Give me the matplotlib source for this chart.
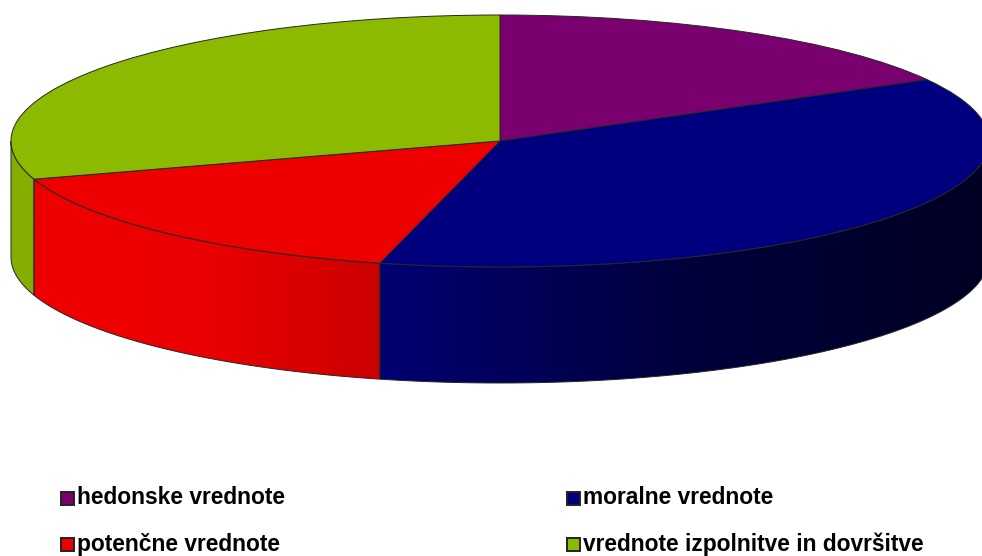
import numpy as np
import matplotlib
matplotlib.use('Agg')
import matplotlib.pyplot as plt
from matplotlib.colors import LinearSegmentedColormap
from matplotlib.patches import Polygon, Rectangle
from matplotlib.transforms import Affine2D

labels = ['hedonske vrednote', 'moralne vrednote', 'potenčne vrednote', 'vrednote izpolnitve in dovršitve']
values = [16.9, 37.05, 16.15, 29.9]
top_colors = ['#7b006f', '#00007f', '#ee0000', '#8cba00']

# left / right colours of the rim of every slice
side_colors = {1: ['#000072', '#00003c', '#000024'],
               2: ['#f00000', '#ea0000', '#cc0000'],
               3: ['#86ae00', '#86ae00', '#86ae00']}

# ellipse in pixels
cx, cy = 500, 141
rx, ry = 489, 126
depth = 116
edge = '#262626'

fig = plt.figure(figsize=(9.82, 5.56), dpi=100)
ax = fig.add_axes([0, 0, 1, 1])

wedges, _ = ax.pie(values, colors=top_colors, startangle=90, counterclock=False,
                   wedgeprops=dict(edgecolor=edge, linewidth=0.7))
ax.set_aspect('auto')
ax.set_xlim(0, 982)
ax.set_ylim(556, 0)
ax.axis('off')

squash = Affine2D().scale(rx, -ry).translate(cx, cy) + ax.transData
for w in wedges:
    w.set_transform(squash)
    w.set_zorder(5)


def rim_xy(a1, a2):
    t = np.radians(np.linspace(a1, a2, 200))
    return cx + rx * np.cos(t), cy - ry * np.sin(t)


# the rim: only what lies on the front half of the ellipse
for i, w in enumerate(wedges):
    if i not in side_colors:
        continue
    a1 = min(w.theta1, w.theta2) % 360
    a2 = a1 + abs(w.theta2 - w.theta1)
    a1, a2 = max(a1, 180), min(a2, 360)
    x, y = rim_xy(a1, a2)
    pts = np.r_[np.c_[x, y], np.c_[x[::-1], y[::-1] + depth]]
    poly = Polygon(pts, closed=True, facecolor='none', edgecolor=edge, linewidth=0.7, zorder=3)
    ax.add_patch(poly)
    cmap = LinearSegmentedColormap.from_list('rim', side_colors[i])
    grad = np.linspace(0, 1, 256).reshape(1, -1)
    im = ax.imshow(grad, cmap=cmap, aspect='auto', zorder=2,
                   extent=[x.min(), x.max(), pts[:, 1].max(), pts[:, 1].min()])
    im.set_clip_path(poly)

ax.set_xlim(0, 982)
ax.set_ylim(556, 0)

# legend
leg_x = [61, 567, 61, 567]
leg_y = [498, 498, 544.5, 544.5]
for lab, col, lx, ly in zip(labels, top_colors, leg_x, leg_y):
    ax.add_patch(Rectangle((lx + 0.5, ly - 6.5), 13, 13, facecolor=col, edgecolor='#222222', linewidth=1.4))
    ax.text(lx + 16, ly - 0.5, lab, family='Liberation Sans', weight='bold', fontsize=16.4,
            color='black', va='center', ha='left')

fig.savefig('out.png', dpi=100)
